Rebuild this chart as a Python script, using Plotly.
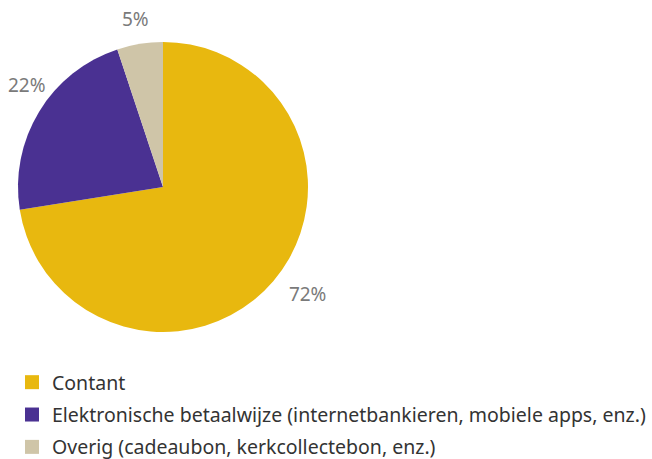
import math
import plotly.graph_objects as go

categories = ["Contant",
              "Elektronische betaalwijze (internetbankieren, mobiele apps, enz.)",
              "Overig (cadeaubon, kerkcollectebon, enz.)"]
values = [72.5, 22.4, 5.1]
labels_text = ["72%", "22%", "5%"]
colors = ["#E8B80F", "#4A3192", "#CFC5A8"]

W, H = 652, 459
FONT = "Noto Sans"
LABEL_COLOR = "#7a7a7a"
CX, CY, R = 163, 187, 145  # pie centre / radius in pixels
LABEL_SHIFT = {1: (9, 14), 2: (0, 0)}  # small pixel nudges for outside labels

fig = go.Figure()
# invisible larger pie used to place the outside label of the first slice
fig.add_trace(go.Pie(
    labels=categories, values=values,
    text=[labels_text[0]] + [""] * (len(values) - 1),
    textinfo="text", textposition="outside",
    sort=False, direction="clockwise", rotation=0,
    marker=dict(colors=["rgba(0,0,0,0)"] * 3, line=dict(width=0)),
    outsidetextfont=dict(color=LABEL_COLOR, size=19, family=FONT),
    showlegend=False, hoverinfo="skip",
    domain=dict(x=[(CX - R - 12) / W, (CX + R + 12) / W],
                y=[(H - CY - R - 12) / H, (H - CY + R + 12) / H]),
))
fig.add_trace(go.Pie(
    labels=categories, values=values,
    textinfo="none",
    sort=False, direction="clockwise", rotation=0,
    marker=dict(colors=colors, line=dict(width=0)),
    showlegend=False, hoverinfo="label+percent",
    domain=dict(x=[(CX - R) / W, (CX + R) / W],
                y=[(H - CY - R) / H, (H - CY + R) / H]),
))
# remaining labels placed at the slice mid-angle
total = sum(values)
cum = 0.0
for i, v in enumerate(values):
    mid = (cum + v / 2) / total * 2 * math.pi
    cum += v
    if i == 0:
        continue
    rl = R + 25
    px = CX + rl * math.sin(mid)
    py = CY - rl * math.cos(mid)
    dx, dy = LABEL_SHIFT.get(i, (0, 0))
    fig.add_annotation(x=px / W, y=1 - py / H, xref="paper", yref="paper",
                       text=labels_text[i], showarrow=False,
                       xanchor="center", yanchor="middle",
                       xshift=dx, yshift=dy,
                       font=dict(color=LABEL_COLOR, size=19, family=FONT))

for i, (c, col) in enumerate(zip(categories, colors)):
    fig.add_trace(go.Scatter(
        x=[None], y=[None], mode="markers", name=c,
        marker=dict(symbol="square", size=14, color=col),
        legendgroup=f"g{i}", showlegend=True,
    ))

fig.update_layout(
    width=W, height=H,
    margin=dict(l=0, r=0, t=0, b=0, autoexpand=False),
    paper_bgcolor="white", plot_bgcolor="white",
    xaxis=dict(visible=False), yaxis=dict(visible=False),
    legend=dict(x=12 / W, y=-8 / H, xanchor="left", yanchor="bottom",
                font=dict(size=19.5, color="#333333", family=FONT),
                tracegroupgap=4, traceorder="grouped", itemsizing="trace",
                bgcolor="rgba(0,0,0,0)"),
    showlegend=True,
)
fig.write_html("out.html", config={"displayModeBar": False},
               post_script="document.body.style.margin='0px';")
